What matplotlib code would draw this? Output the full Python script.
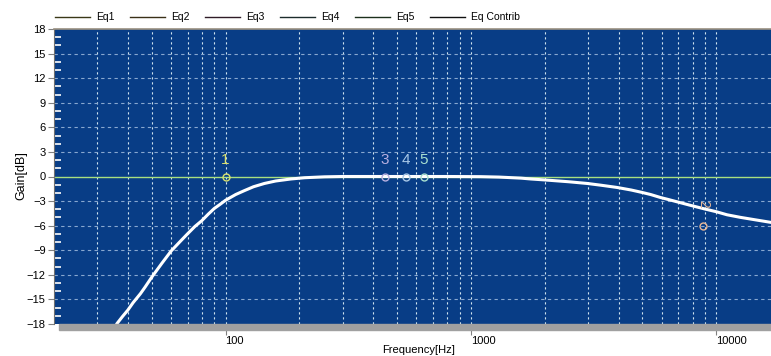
import numpy as np
import matplotlib
matplotlib.use('Agg')
import matplotlib.pyplot as plt
from matplotlib.patches import Rectangle
from matplotlib.lines import Line2D
from matplotlib.ticker import FixedLocator

plt.rcParams['font.family'] = ['Liberation Sans', 'DejaVu Sans']

# response curve (Hz, dB)
freq = [36, 38, 40, 42, 45, 47, 50, 55, 60, 65, 70, 75, 80, 85, 90, 95, 100,
        110, 119, 130, 144, 160, 185, 210, 253, 300, 400, 800, 1100, 1300,
        1600, 1750, 2000, 2500, 2980, 3400, 3945, 4500, 4990, 5400, 5915,
        6400, 6920, 7800, 9020, 10000, 11050, 12500, 14500, 16700]
gain = [-18.0, -17.1, -16.3, -15.4, -14.3, -13.5, -12.3, -10.6, -9.1, -8.0,
        -7.0, -6.1, -5.4, -4.6, -3.9, -3.4, -2.9, -2.2, -1.74, -1.25, -0.85,
        -0.55, -0.3, -0.15, -0.04, 0.0, 0.0, 0.0, -0.02, -0.07, -0.2, -0.3,
        -0.42, -0.64, -0.85, -1.07, -1.34, -1.65, -1.95, -2.2, -2.56, -2.82,
        -3.09, -3.5, -3.98, -4.3, -4.67, -4.98, -5.3, -5.6]

# eq band points
band_names = ['1', '2', '3', '4', '5']
band_freq = [100, 8850, 447, 544, 644]
band_gain = [0, -6, 0, 0, 0]
band_colors = ['#d8e070', '#e8b898', '#b8b0e0', '#a8c8e8', '#a8e0d0']

legend_names = ['Eq1', 'Eq2', 'Eq3', 'Eq4', 'Eq5', 'Eq Contrib']
legend_colors = ['#3a3818', '#3a3018', '#301c28', '#1c2c2c', '#1c301c', '#111111']

W, H = 771, 356
fig = plt.figure(figsize=(W / 100, H / 100), dpi=100)
fig.patch.set_facecolor('white')
ax = fig.add_axes([54 / W, (H - 324) / H, 1 - 54 / W, 295 / H])
ax.set_facecolor('#083d86')
ax.set_xscale('log')
ax.set_xlim(20, 16700)
ax.set_ylim(-18, 18)

# grid
minor = [m * 10 ** e for e in range(1, 5) for m in range(1, 10)]
minor = [v for v in minor if 20 < v < 16700]
for v in minor:
    ax.axvline(v, color='#d0e4f0', lw=0.8, dashes=(2, 2.5), zorder=1)
for v in range(-15, 18, 3):
    if v != 0:
        ax.axhline(v, color='#88a8d0', lw=0.8, dashes=(3, 3), zorder=1)

# eq lines flat at 0
ax.axhline(0, color='#a8e080', lw=1.0, zorder=2)
ax.plot(freq, gain, color='white', lw=2.2, zorder=3, solid_capstyle='round')

for n, f, g, c in zip(band_names, band_freq, band_gain, band_colors):
    ax.plot(f, g, 'o', ms=5, mfc='none', mec=c, mew=1.0, zorder=4)
    if n == '2':
        ax.text(f, 2.6 + g, n, color=c, fontsize=10, rotation=-90,
                ha='center', va='center', zorder=4)
    else:
        ax.text(f, 1.2 + g, n, color=c, fontsize=11, ha='center', va='bottom',
                zorder=4)

ax.yaxis.set_major_locator(FixedLocator(range(-18, 19, 3)))
ax.yaxis.set_minor_locator(FixedLocator([v for v in range(-17, 18) if v % 3]))
ax.tick_params(axis='y', which='major', direction='out', length=4, color='#808080',
               labelsize=8, pad=2)
ax.tick_params(axis='y', which='minor', direction='in', length=5, color='white',
               width=1.2)
ax.xaxis.set_major_locator(FixedLocator([100, 1000, 10000]))
ax.xaxis.set_minor_locator(FixedLocator([]))
ax.set_xticklabels(['100', '1000', '10000'])
ax.tick_params(axis='x', direction='out', length=8, color='#808080', labelsize=8,
               pad=1)
for lbl in ax.get_xticklabels():
    lbl.set_ha('left')

for s in ['top', 'right', 'bottom']:
    ax.spines[s].set_visible(False)
ax.spines['left'].set_color('#707070')
ax.plot([0, 1], [1, 1], transform=ax.transAxes, color='#9a9080', lw=1.2,
        clip_on=False, zorder=5)

# gray shadow bar under plot
fig.patches.append(Rectangle((59 / W, (H - 330) / H), 1, 6 / H,
                             transform=fig.transFigure, color='#a0a0a0',
                             zorder=0))

fig.text(21 / W, 1 - 176 / H, 'Gain[dB]', fontsize=9, rotation=90,
         ha='center', va='center')
fig.text(419 / W, 1 - 345 / H, 'Frequency[Hz]', fontsize=8, ha='center', va='top')

# legend
for i, (name, c) in enumerate(zip(legend_names, legend_colors)):
    x0 = 55 + 75 * i
    fig.add_artist(Line2D([x0 / W, (x0 + 35) / W], [1 - 17 / H, 1 - 17 / H],
                          color=c, lw=1.0, transform=fig.transFigure))
    fig.text((x0 + 41) / W, 1 - 17 / H, name, fontsize=7.5, ha='left', va='center')

fig.savefig('out.png', dpi=100)
